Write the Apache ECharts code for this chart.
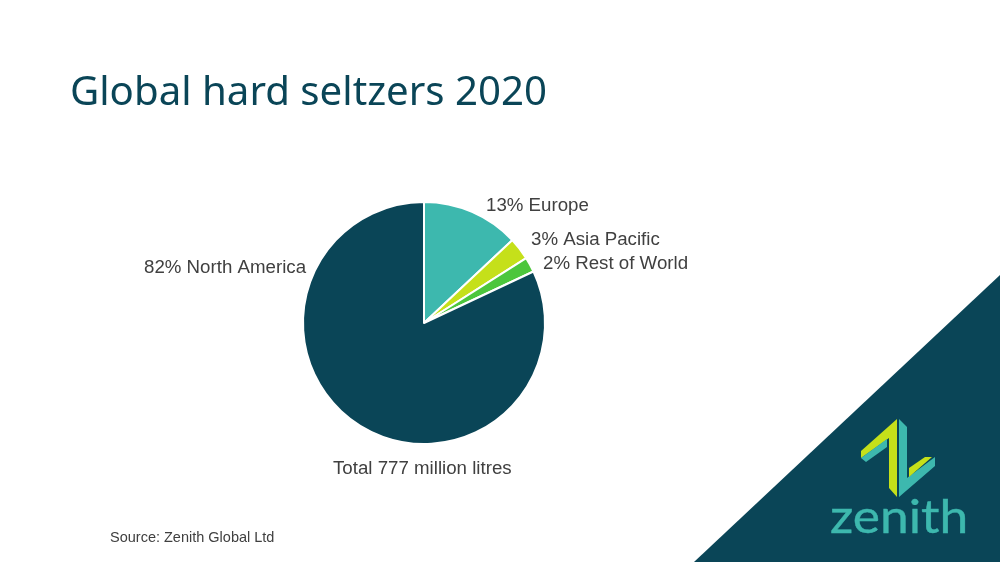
<!DOCTYPE html>
<html>
<head>
<meta charset="utf-8">
<title>Global hard seltzers 2020</title>
<style>
html, body { margin: 0; padding: 0; background: #fff; }
#main { width: 1000px; height: 562px; }
</style>
<script src="https://cdn.jsdelivr.net/npm/echarts@6/dist/echarts.min.js"></script>
</head>
<body>
<div id="main"></div>
<script>
var regions = ['Europe', 'Asia Pacific', 'Rest of World', 'North America'];
var shares = [13, 3, 2, 82];
var sliceColors = ['#3db8ae', '#c5e01a', '#4cc63c', '#0a4557'];
var labelSpots = [[486, 206], [531, 240], [543, 264], [144, 268]];

var dark = '#0a4557';
var teal = '#3db8ae';
var lime = '#c5e01a';
var textColor = '#404040';

var myChart = echarts.init(document.getElementById('main'));

var pieData = regions.map(function(name, i) {
	return {
		name: name,
		value: shares[i],
		itemStyle: { color: sliceColors[i] }
	};
});

var option = {
	animation: false,
	backgroundColor: '#fff',
	title: {
		text: 'Global hard seltzers 2020',
		left: 65,
		top: 69,
		textStyle: {
			color: dark,
			fontFamily: 'Noto Sans',
			fontSize: 40.2,
			fontWeight: 'normal'
		}
	},
	series: [{
		type: 'pie',
		center: [424, 323],
		radius: [0, 121],
		startAngle: 90,
		clockwise: true,
		data: pieData,
		itemStyle: { borderColor: '#fff', borderWidth: 2 },
		label: {
			formatter: '{c}% {b}',
			color: textColor,
			fontFamily: 'Liberation Sans',
			fontSize: 18.7
		},
		labelLine: { show: false },
		labelLayout: function(params) {
			var spot = labelSpots[params.dataIndex];
			return { x: spot[0], y: spot[1], align: 'left', verticalAlign: 'middle' };
		}
	}],
	graphic: [
		{
			type: 'polygon',
			z: -1,
			shape: { points: [[694, 562], [1000, 275], [1000, 562]] },
			style: { fill: dark }
		},
		{
			type: 'text',
			x: 333,
			y: 459,
			style: { text: 'Total 777 million litres', fill: textColor, font: '18.7px "Liberation Sans"' }
		},
		{
			type: 'text',
			x: 110,
			y: 530,
			style: { text: 'Source: Zenith Global Ltd', fill: textColor, font: '14.5px "Liberation Sans"' }
		},
		{
			type: 'polygon',
			shape: { points: [[897, 419], [897, 497], [889, 488], [889, 438], [861, 458], [861, 451]] },
			style: { fill: lime }
		},
		{
			type: 'polygon',
			shape: { points: [[861, 458], [887, 439], [887, 447], [866, 462]] },
			style: { fill: teal }
		},
		{
			type: 'polygon',
			shape: { points: [[899, 419], [907, 427], [907, 478], [935, 457], [935, 466], [899, 497]] },
			style: { fill: teal }
		},
		{
			type: 'polygon',
			shape: { points: [[909, 477], [909, 468], [925, 457], [932, 457]] },
			style: { fill: lime }
		},
		{
			type: 'text',
			x: 830,
			y: 495,
			scaleX: 1.12,
			style: { text: 'zenith', fill: teal, stroke: teal, lineWidth: 0.4, font: '46px "Lato"' }
		}
	]
};
myChart.setOption(option);
window.onresize = function() {
	myChart.resize();
};
</script>
</body>
</html>
